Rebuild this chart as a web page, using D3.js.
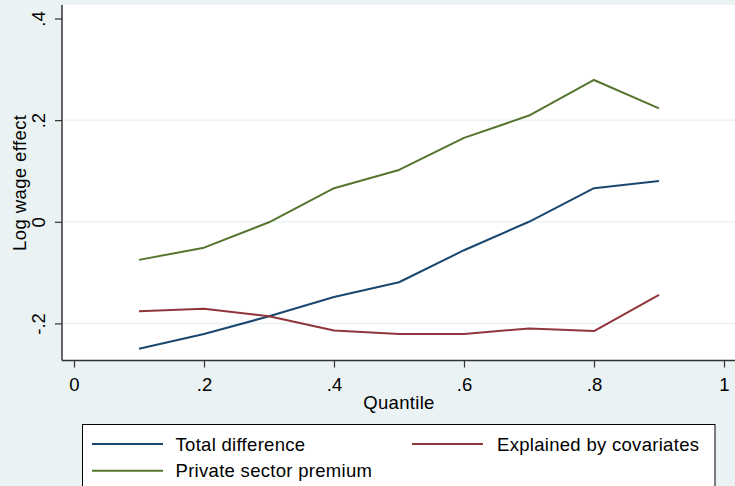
<!DOCTYPE html>
<html>
<head>
<meta charset="utf-8">
<script src="https://cdn.jsdelivr.net/npm/d3@7/dist/d3.min.js"></script>
<style>
  html, body { margin: 0; padding: 0; background: #EAF2F3; }
  svg { display: block; font-family: Arial, "Liberation Sans", sans-serif; }
</style>
</head>
<body>
<svg id="chart" width="735" height="486"></svg>
<script>
// Quantiles at which the decomposition is evaluated
const quantiles = [0.1, 0.2, 0.3, 0.4, 0.5, 0.6, 0.7, 0.8, 0.9];

// Log wage effects by quantile
const totalDifference = [-0.250, -0.221, -0.186, -0.148, -0.119, -0.056, 0.000, 0.066, 0.080];
const explainedByCovariates = [-0.176, -0.171, -0.186, -0.214, -0.221, -0.221, -0.210, -0.215, -0.144];
const privateSectorPremium = [-0.075, -0.051, -0.001, 0.066, 0.102, 0.165, 0.209, 0.279, 0.223];

const seriesNames = ["Total difference", "Explained by covariates", "Private sector premium"];
const xTicks = [0, 0.2, 0.4, 0.6, 0.8, 1];
const yTicks = [-0.2, 0, 0.2, 0.4];
const yGrid = [-0.2, 0, 0.2];

const colors = ["#1A476F", "#90353B", "#55752F"];
const fmt = v => v === 0 ? "0" : (v === 1 ? "1" : String(v).replace(/^(-?)0\./, "$1."));
const FONT = "Arial, 'Liberation Sans', sans-serif";
const FS = 18.5;

const svg = d3.select("#chart");

// plot region
const plot = { left: 62, top: 5, right: 740, bottom: 360.5 };
svg.append("rect")
  .attr("x", plot.left).attr("y", plot.top)
  .attr("width", plot.right - plot.left).attr("height", plot.bottom - plot.top)
  .attr("fill", "#ffffff");

const x = d3.scaleLinear().domain([0, 1]).range([74, 724]);
const y = d3.scaleLinear().domain([-0.2, 0.4]).range([323.4, 18.5]);

// horizontal grid lines
svg.append("g").selectAll("line").data(yGrid).join("line")
  .attr("x1", plot.left).attr("x2", plot.right)
  .attr("y1", d => y(d)).attr("y2", d => y(d))
  .attr("stroke", "#EAF2F3").attr("stroke-width", 1.5);

// series lines
const series = [totalDifference, explainedByCovariates, privateSectorPremium];
const line = d3.line().x((d, i) => x(quantiles[i])).y(d => y(d));
svg.append("g").selectAll("path").data(series).join("path")
  .attr("d", d => line(d))
  .attr("fill", "none")
  .attr("stroke", (d, i) => colors[i])
  .attr("stroke-width", 2)
  .attr("stroke-linejoin", "round");

// x axis
const xAxis = d3.axisBottom(x).tickValues(xTicks).tickSize(7).tickPadding(11).tickFormat(fmt);
const gx = svg.append("g").attr("transform", `translate(0,${plot.bottom})`).call(xAxis);
gx.select(".domain").attr("d", `M${plot.left},0H${plot.right}`).attr("stroke", "#333").attr("stroke-width", 1.5);
gx.selectAll(".tick line").attr("stroke", "#333").attr("stroke-width", 1.2);
gx.selectAll(".tick text").attr("font-size", FS).attr("fill", "#000").attr("font-family", FONT)
  .attr("dy", "0.68em");

// y axis
const yAxis = d3.axisLeft(y).tickValues(yTicks).tickSize(7).tickFormat(fmt);
const gy = svg.append("g").attr("transform", `translate(${plot.left},0)`).call(yAxis);
gy.select(".domain").attr("d", `M0,${plot.top}V${plot.bottom}`).attr("stroke", "#333").attr("stroke-width", 1.5);
gy.selectAll(".tick line").attr("stroke", "#333").attr("stroke-width", 1.2);
gy.selectAll(".tick text")
  .attr("font-size", FS).attr("fill", "#000").attr("font-family", FONT)
  .attr("x", null).attr("dy", null)
  .attr("text-anchor", "middle")
  .attr("transform", "translate(-17,0) rotate(-90)");

// axis titles
svg.append("text")
  .attr("x", x(0.5)).attr("y", 409)
  .attr("text-anchor", "middle").attr("font-size", FS).attr("fill", "#000")
  .attr("letter-spacing", 0.3)
  .text("Quantile");
svg.append("text")
  .attr("transform", `translate(25.5,${(plot.top + plot.bottom) / 2}) rotate(-90)`)
  .attr("text-anchor", "middle").attr("font-size", FS).attr("fill", "#000")
  .attr("letter-spacing", 0.4)
  .text("Log wage effect");

// legend
const legend = svg.append("g");
legend.append("rect")
  .attr("x", 82.5).attr("y", 424.5).attr("width", 632.5).attr("height", 80)
  .attr("fill", "#fff").attr("stroke", "#000").attr("stroke-width", 1);
const legendPos = [
  { lx: 92, ly: 444, tx: 175.5, ty: 450.7 },
  { lx: 412, ly: 444, tx: 497, ty: 450.7 },
  { lx: 92, ly: 470.7, tx: 175.5, ty: 477 }
];
seriesNames.forEach((name, i) => {
  const p = legendPos[i];
  legend.append("line")
    .attr("x1", p.lx).attr("x2", p.lx + 71).attr("y1", p.ly).attr("y2", p.ly)
    .attr("stroke", colors[i]).attr("stroke-width", 2);
  legend.append("text")
    .attr("x", p.tx).attr("y", p.ty).attr("font-size", FS).attr("fill", "#000")
    .attr("letter-spacing", 0.3)
    .text(name);
});
</script>
</body>
</html>
